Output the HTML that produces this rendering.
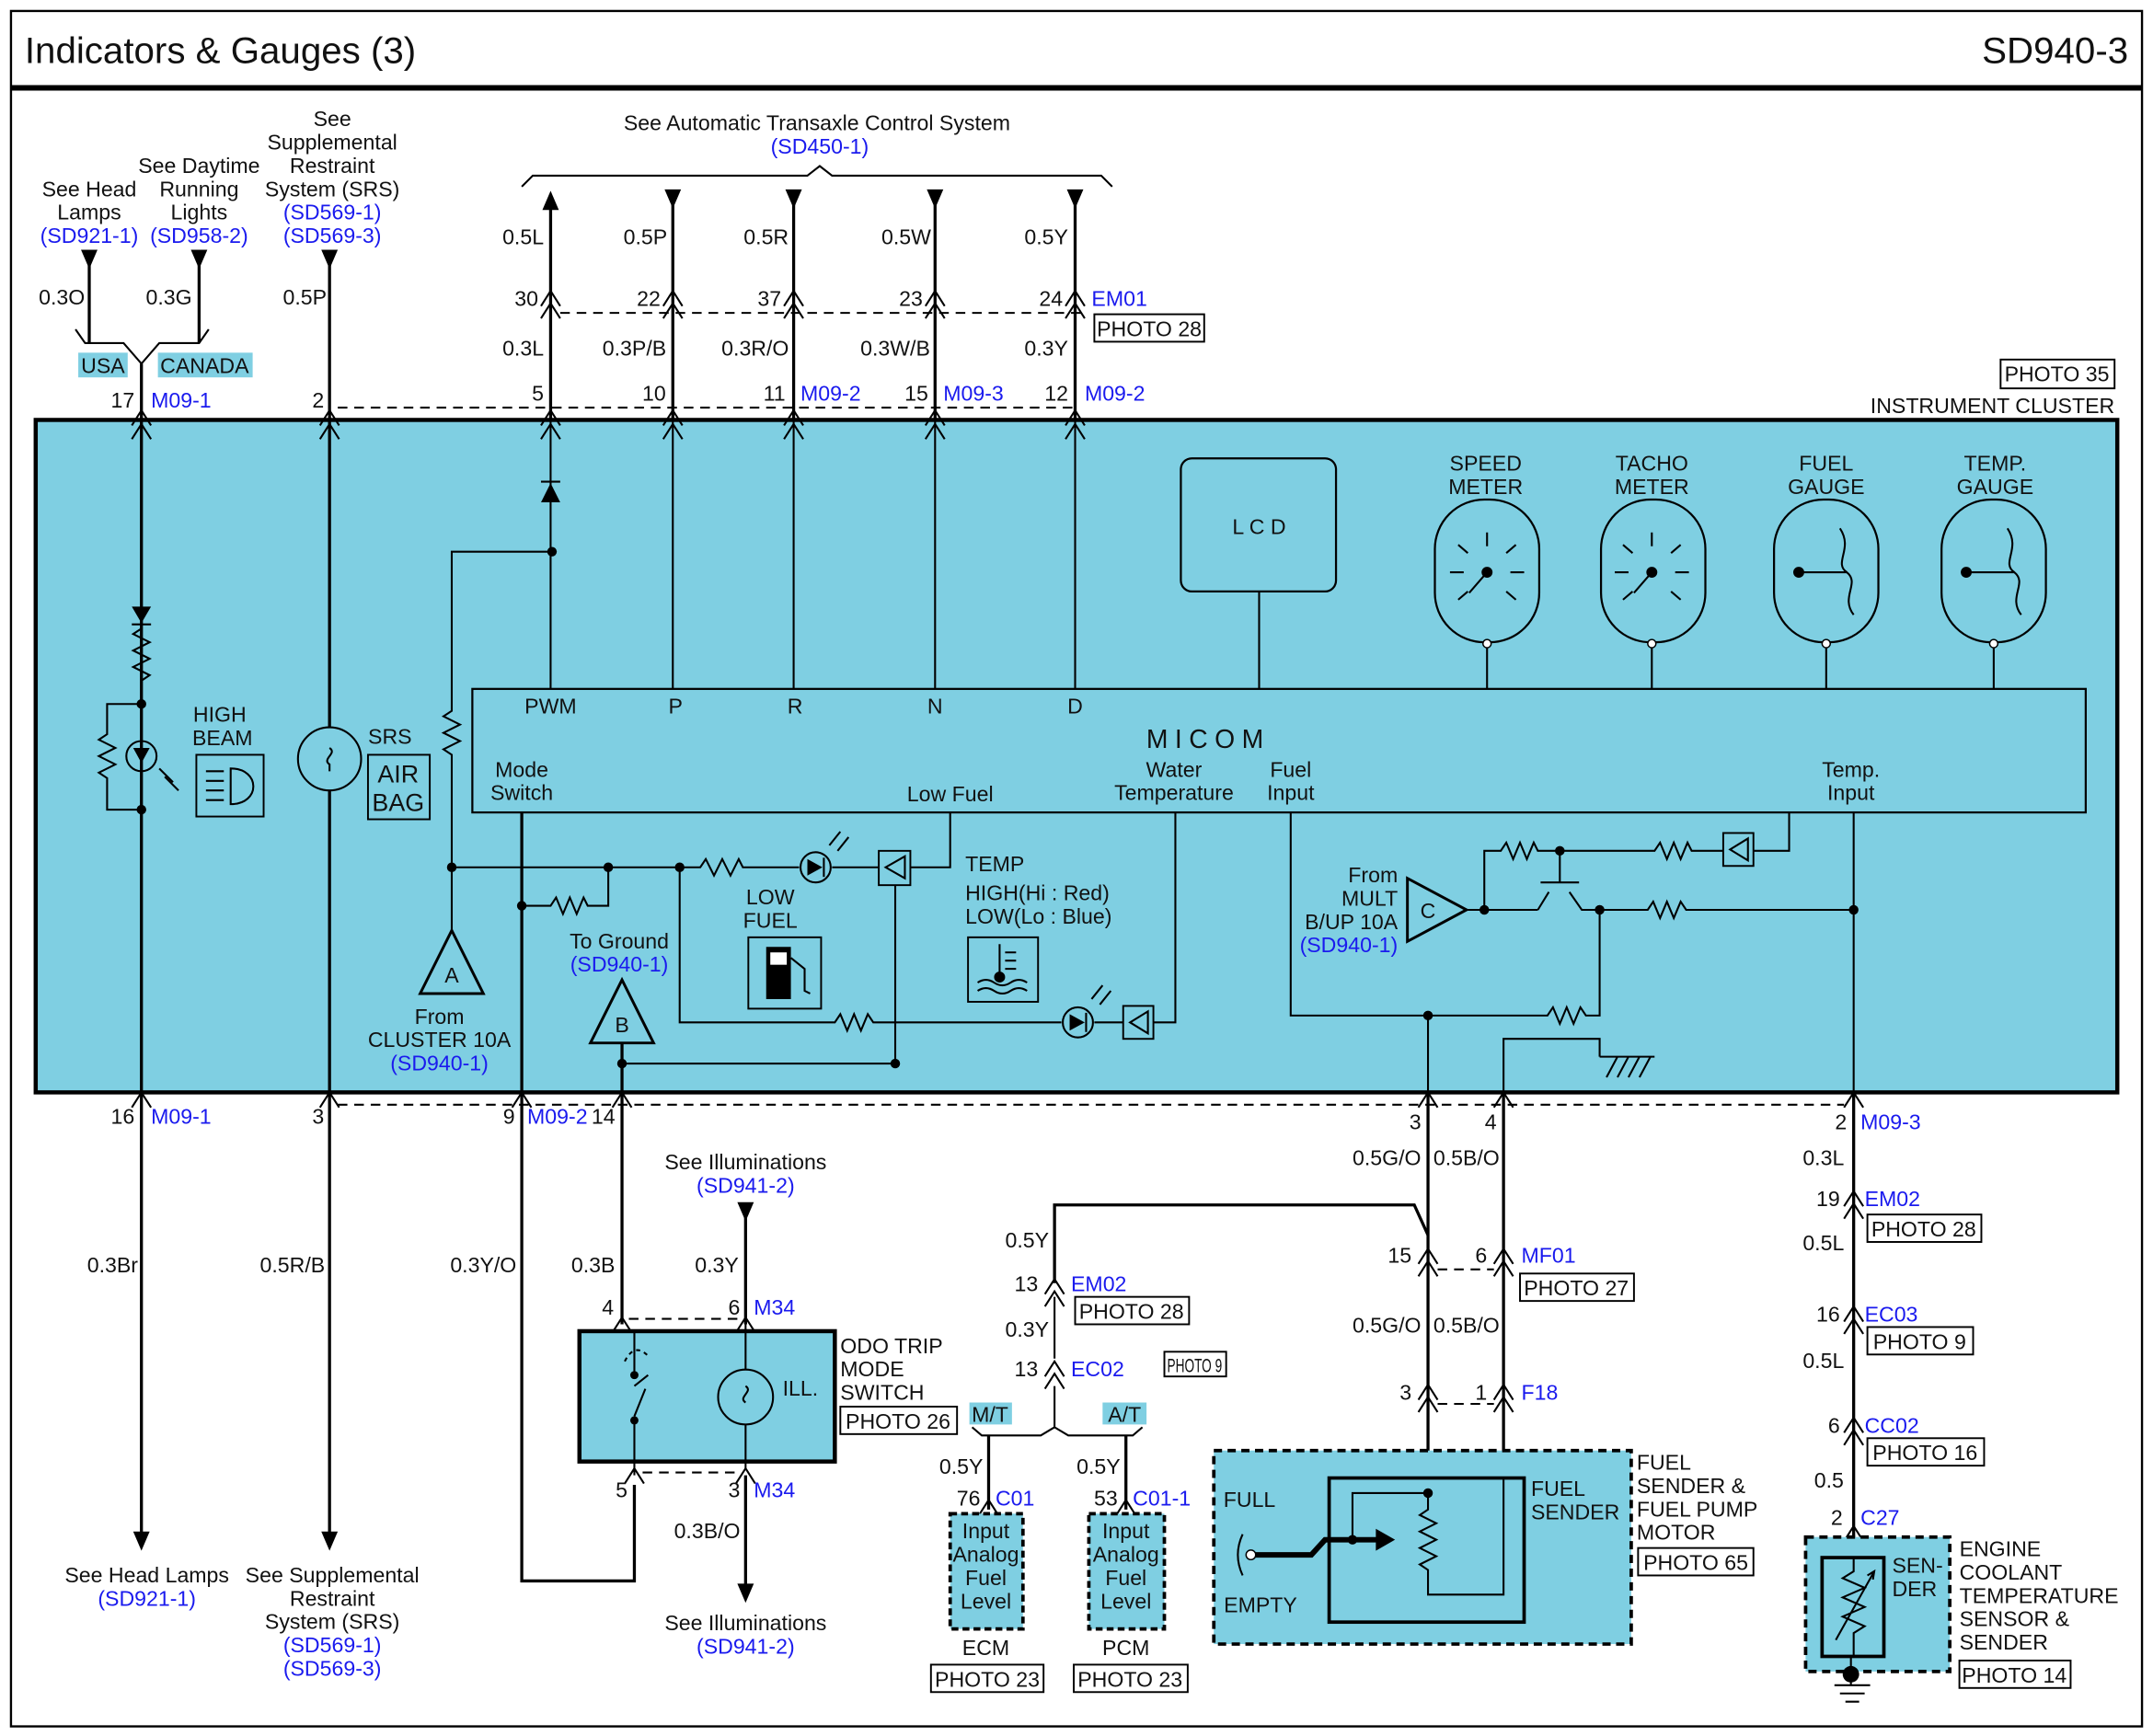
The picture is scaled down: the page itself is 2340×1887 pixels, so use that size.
<!DOCTYPE html>
<html><head><meta charset="utf-8"><style>
html,body{margin:0;padding:0;background:#fff}
svg{display:block}
text{font-family:"Liberation Sans Narrow","Liberation Sans",sans-serif;font-size:15.5px;fill:#111}
.c{text-anchor:middle}.r{text-anchor:end}
.b{fill:#1a1aee}
.w{stroke:#000;stroke-width:2.2;fill:none}
.t{stroke:#000;stroke-width:1.4;fill:none}
.d{stroke:#000;stroke-width:1.4;fill:none;stroke-dasharray:7 5}
.bx{fill:#fff;stroke:#000;stroke-width:1.3}
</style></head><body>
<svg width="2340" height="1887" viewBox="0 0 1568 1265" preserveAspectRatio="none" xmlns="http://www.w3.org/2000/svg">
<defs>
<path id="ch" d="M-7,7 L0,-4 L7,7" fill="none" stroke="#000" stroke-width="1.4"/>
<g id="ch2"><path d="M-7,3 L0,-8 L7,3 M-7,12 L0,1 L7,12" fill="none" stroke="#000" stroke-width="1.4"/></g>
<path id="ad" d="M-6,-8 L6,-8 L0,6 Z" fill="#000"/>
<path id="au" d="M-6,8 L6,8 L0,-6 Z" fill="#000"/>
</defs>
<rect x="0" y="0" width="1568" height="1265" fill="#fff"/>
<rect x="8" y="8" width="1552" height="1250" fill="none" stroke="#000" stroke-width="1.6"/>
<text x="18" y="46" style="font-size:27px">Indicators &amp; Gauges (3)</text>
<text x="1550" y="46" class="r" style="font-size:27px">SD940-3</text>
<line x1="8" y1="64" x2="1560" y2="64" stroke="#000" stroke-width="4"/>

<text x="65" y="143" class="c">See Head</text><text x="65" y="160" class="c">Lamps</text><text x="65" y="177" class="c b">(SD921-1)</text>
<text x="145" y="126" class="c">See Daytime</text><text x="145" y="143" class="c">Running</text><text x="145" y="160" class="c">Lights</text><text x="145" y="177" class="c b">(SD958-2)</text>
<text x="242" y="92" class="c">See</text><text x="242" y="109" class="c">Supplemental</text><text x="242" y="126" class="c">Restraint</text><text x="242" y="143" class="c">System (SRS)</text><text x="242" y="160" class="c b">(SD569-1)</text><text x="242" y="177" class="c b">(SD569-3)</text>
<use href="#ad" x="65" y="190"/><use href="#ad" x="145" y="190"/><use href="#ad" x="240" y="190"/>
<path class="w" d="M65,190 V250 M145,190 V250 M240,190 V306"/>
<path class="t" d="M55,240 L62,250 H90 L103,265 L116,250 H145 L152,240"/>
<path class="w" d="M103,265 V306"/>
<text x="45" y="222" class="c">0.3O</text><text x="123" y="222" class="c">0.3G</text><text x="222" y="222" class="c">0.5P</text>
<rect x="57" y="257" width="36" height="18" fill="#7fcfe2"/><text x="75" y="272" class="c">USA</text>
<rect x="115" y="257" width="69" height="18" fill="#7fcfe2"/><text x="149" y="272" class="c">CANADA</text>
<text x="98" y="297" class="r">17</text><text x="110" y="297" class="b">M09-1</text>
<text x="236" y="297" class="r">2</text>

<text x="595" y="95" class="c">See Automatic Transaxle Control System</text>
<text x="597" y="112" class="c b">(SD450-1)</text>
<path class="t" d="M380,136 L388,128 H588 L597,121 L606,128 H802 L810,136"/>
<use href="#au" x="401" y="145"/>
<use href="#ad" x="490" y="146"/><use href="#ad" x="578" y="146"/><use href="#ad" x="681" y="146"/><use href="#ad" x="783" y="146"/>
<path class="w" d="M401,145 V306 M490,146 V306 M578,146 V306 M681,146 V306 M783,146 V306"/>
<text x="381" y="178" class="c">0.5L</text><text x="470" y="178" class="c">0.5P</text><text x="558" y="178" class="c">0.5R</text><text x="660" y="178" class="c">0.5W</text><text x="762" y="178" class="c">0.5Y</text>
<use href="#ch2" x="401" y="220"/><use href="#ch2" x="490" y="220"/><use href="#ch2" x="578" y="220"/><use href="#ch2" x="681" y="220"/><use href="#ch2" x="783" y="220"/>
<text x="392" y="223" class="r">30</text><text x="481" y="223" class="r">22</text><text x="569" y="223" class="r">37</text><text x="672" y="223" class="r">23</text><text x="774" y="223" class="r">24</text>
<text x="795" y="223" class="b">EM01</text>
<rect x="797" y="229" width="80" height="20" class="bx"/><text x="837" y="245" class="c">PHOTO 28</text>
<line class="d" x1="408" y1="228" x2="790" y2="228"/>
<text x="381" y="259" class="c">0.3L</text><text x="462" y="259" class="c">0.3P/B</text><text x="550" y="259" class="c">0.3R/O</text><text x="652" y="259" class="c">0.3W/B</text><text x="762" y="259" class="c">0.3Y</text>
<text x="396" y="292" class="r">5</text><text x="485" y="292" class="r">10</text><text x="572" y="292" class="r">11</text><text x="583" y="292" class="b">M09-2</text>
<text x="676" y="292" class="r">15</text><text x="687" y="292" class="b">M09-3</text><text x="778" y="292" class="r">12</text><text x="790" y="292" class="b">M09-2</text>
<line class="d" x1="246" y1="297" x2="783" y2="297"/>
<rect x="1457" y="262" width="83" height="21" class="bx"/><text x="1498" y="278" class="c">PHOTO 35</text>
<text x="1540" y="301" class="r">INSTRUMENT CLUSTER</text>

<rect x="26" y="306" width="1516" height="490" fill="#7fcfe2" stroke="#000" stroke-width="3"/>
<g><use href="#ch" x="103" y="303"/><use href="#ch" x="240" y="303"/><use href="#ch" x="401" y="303"/><use href="#ch" x="490" y="303"/><use href="#ch" x="578" y="303"/><use href="#ch" x="681" y="303"/><use href="#ch" x="783" y="303"/>
<use href="#ch" x="103" y="313"/><use href="#ch" x="240" y="313"/><use href="#ch" x="401" y="313"/><use href="#ch" x="490" y="313"/><use href="#ch" x="578" y="313"/><use href="#ch" x="681" y="313"/><use href="#ch" x="783" y="313"/></g>
<rect x="344" y="502" width="1175" height="90" fill="#7fcfe2" stroke="#000" stroke-width="1.5"/>
<rect x="860" y="334" width="113" height="97" rx="8" fill="#7fcfe2" stroke="#000" stroke-width="1.5"/>
<text x="917" y="389" class="c">L C D</text>
<line class="t" x1="917" y1="431" x2="917" y2="502"/>
<g fill="#7fcfe2" stroke="#000" stroke-width="1.5">
<rect x="1045" y="364" width="76" height="104" rx="36"/><rect x="1166" y="364" width="76" height="104" rx="36"/>
<rect x="1292" y="364" width="76" height="104" rx="36"/><rect x="1414" y="364" width="76" height="104" rx="36"/></g>
<g class="t">
<path d="M1083,468 V502 M1203,468 V502 M1330,468 V502 M1452,468 V502"/>
<path d="M1083,388 V398 M1062,397 L1069,403 M1104,397 L1097,403 M1056,417 H1066 M1100,417 H1110 M1062,437 L1069,431 M1104,437 L1097,431 M1083,417 L1070,432"/>
<path d="M1203,388 V398 M1182,397 L1189,403 M1224,397 L1217,403 M1176,417 H1186 M1220,417 H1230 M1182,437 L1189,431 M1224,437 L1217,431 M1203,417 L1190,432"/>
<path d="M1310,417 H1345 M1340,385 C1350,400 1335,410 1345,417 C1355,425 1340,435 1350,448"/>
<path d="M1432,417 H1467 M1462,385 C1472,400 1457,410 1467,417 C1477,425 1462,435 1472,448"/>
</g>
<circle cx="1083" cy="417" r="4"/><circle cx="1203" cy="417" r="4"/><circle cx="1310" cy="417" r="4"/><circle cx="1432" cy="417" r="4"/>
<g fill="#fff" stroke="#000"><circle cx="1083" cy="469" r="3"/><circle cx="1203" cy="469" r="3"/><circle cx="1330" cy="469" r="3"/><circle cx="1452" cy="469" r="3"/></g>
<text x="1082" y="343" class="c">SPEED</text><text x="1082" y="360" class="c">METER</text>
<text x="1203" y="343" class="c">TACHO</text><text x="1203" y="360" class="c">METER</text>
<text x="1330" y="343" class="c">FUEL</text><text x="1330" y="360" class="c">GAUGE</text>
<text x="1453" y="343" class="c">TEMP.</text><text x="1453" y="360" class="c">GAUGE</text>
<text x="401" y="520" class="c">PWM</text><text x="492" y="520" class="c">P</text><text x="579" y="520" class="c">R</text><text x="681" y="520" class="c">N</text><text x="783" y="520" class="c">D</text>
<text x="880" y="545" class="c" style="font-size:19px;letter-spacing:5px">MICOM</text>
<text x="380" y="566" class="c">Mode</text><text x="380" y="583" class="c">Switch</text>
<text x="692" y="584" class="c">Low Fuel</text>
<text x="855" y="566" class="c">Water</text><text x="855" y="583" class="c">Temperature</text>
<text x="940" y="566" class="c">Fuel</text><text x="940" y="583" class="c">Input</text>
<text x="1348" y="566" class="c">Temp.</text><text x="1348" y="583" class="c">Input</text>
<path class="t" d="M490,306 V502 M578,306 V502 M681,306 V502 M783,306 V502 M401,306 V502"/>
<path class="w" d="M103,306 V796 M240,306 V530 M240,576 V796"/>
<path d="M96,442 H110 L103,454 Z" fill="#000"/><line class="t" x1="96" y1="455" x2="110" y2="455"/>
<path class="t" d="M103,458 L97,462 L109,468 L97,474 L109,480 L97,486 L109,492 L103,496 M103,513 H78 V535 L72,539 L84,545 L72,551 L84,557 L72,563 L78,567 V590 H103"/>
<circle cx="103" cy="513" r="3.5"/><circle cx="103" cy="590" r="3.5"/>
<circle cx="103" cy="551" r="11" class="t"/><path d="M97,545 H109 L103,556 Z" fill="#000"/>
<path class="t" d="M116,560 L126,570 M120,566 L130,576"/>
<text x="160" y="526" class="c">HIGH</text><text x="162" y="543" class="c">BEAM</text>
<rect x="143" y="550" width="49" height="45" fill="#7fcfe2" stroke="#000" stroke-width="1.3"/>
<path class="t" d="M168,560 C190,560 190,586 168,586 Z M150,562 H163 M150,569 H163 M150,576 H163 M150,583 H163"/>
<circle cx="240" cy="553" r="23" class="t"/><path class="t" d="M240,545 C246,549 234,553 240,557 V562"/>
<text x="284" y="542" class="c">SRS</text>
<rect x="268" y="550" width="45" height="47" fill="#7fcfe2" stroke="#000" stroke-width="1.3"/>
<text x="290" y="570" class="c" style="font-size:18px">AIR</text><text x="290" y="591" class="c" style="font-size:18px">BAG</text>
<path d="M394,366 H408 L401,352 Z" fill="#000"/><line class="t" x1="394" y1="351" x2="408" y2="351"/>
<circle cx="402" cy="402" r="3.5"/>
<path class="t" d="M402,402 H329 V518 L323,522 L335,528 L323,534 L335,540 L323,546 L329,550 V678"/>
<path d="M329,678 L306,724 H352 Z" fill="#7fcfe2" stroke="#000" stroke-width="2"/><text x="329" y="716" class="c">A</text>
<text x="320" y="746" class="c">From</text><text x="320" y="763" class="c">CLUSTER 10A</text><text x="320" y="780" class="c b">(SD940-1)</text>
<circle cx="329" cy="632" r="3.5"/><circle cx="443" cy="632" r="3.5"/><circle cx="495" cy="632" r="3.5"/>
<path class="t" d="M329,632 H510 L514,626 L520,638 L526,626 L532,638 L538,626 L541,632 H582 M606,632 H640 M663,632 H692 V592"/>
<circle cx="594" cy="632" r="11" class="t"/><path d="M588,626 V638 L599,632 Z" fill="#000"/><line class="t" x1="600" y1="625" x2="600" y2="639"/>
<path class="t" d="M604,616 L612,606 M610,620 L618,610"/>
<rect x="640" y="620" width="23" height="25" fill="#7fcfe2" stroke="#000" stroke-width="1.3"/><path class="t" d="M659,624 L645,632 L659,640 Z"/>
<path class="t" d="M443,632 V660 H428 L425,654 L420,666 L415,654 L410,666 L405,654 L401,660 H380"/>
<circle cx="380" cy="660" r="3.5"/>
<path class="w" d="M380,592 V796"/>
<path class="t" d="M495,632 V745 H608 L612,739 L617,751 L622,739 L627,751 L632,739 L636,745 H773 M797,745 H818 M840,745 H856 V592"/>
<circle cx="785" cy="745" r="11" class="t"/><path d="M779,739 V751 L790,745 Z" fill="#000"/><line class="t" x1="791" y1="738" x2="791" y2="752"/>
<path class="t" d="M795,728 L803,718 M801,732 L809,722"/>
<rect x="818" y="733" width="22" height="24" fill="#7fcfe2" stroke="#000" stroke-width="1.3"/><path class="t" d="M836,737 L823,745 L836,753 Z"/>
<path class="t" d="M652,645 V775 H453"/><circle cx="652" cy="775" r="3.5"/><circle cx="453" cy="775" r="3.5"/>
<path d="M453,714 L430,760 H476 Z" fill="#7fcfe2" stroke="#000" stroke-width="2"/><text x="453" y="752" class="c">B</text>
<path class="w" d="M453,760 V796"/>
<text x="451" y="691" class="c">To Ground</text><text x="451" y="708" class="c b">(SD940-1)</text>
<text x="561" y="659" class="c">LOW</text><text x="561" y="676" class="c">FUEL</text>
<rect x="545" y="683" width="53" height="52" fill="#7fcfe2" stroke="#000" stroke-width="1.3"/>
<path d="M558,690 H576 V728 H558 Z" fill="#000"/><rect x="561" y="694" width="12" height="9" fill="#fff"/><path class="t" d="M576,698 L586,706 V722 L590,724"/>
<text x="703" y="635">TEMP</text><text x="703" y="656">HIGH(Hi : Red)</text><text x="703" y="673">LOW(Lo : Blue)</text>
<rect x="705" y="683" width="51" height="47" fill="#7fcfe2" stroke="#000" stroke-width="1.3"/>
<path class="t" d="M728,688 V712 M732,694 H740 M732,700 H740 M732,706 H740 M712,716 Q718,712 724,716 T736,716 T748,716 M712,722 Q718,718 724,722 T736,722 T748,722"/><circle cx="728" cy="712" r="4"/>
<path class="t" d="M940,592 V740 H1127 L1131,734 L1136,746 L1141,734 L1146,746 L1151,734 L1155,740 H1165 V663"/>
<circle cx="1040" cy="740" r="3.5"/>
<path d="M1068,663 L1025,640 V686 Z" fill="#7fcfe2" stroke="#000" stroke-width="2"/><text x="1040" y="669" class="c">C</text>
<text x="1018" y="643" class="r">From</text><text x="1018" y="660" class="r">MULT</text><text x="1018" y="677" class="r">B/UP 10A</text><text x="1018" y="694" class="r b">(SD940-1)</text>
<circle cx="1081" cy="663" r="3.5"/>
<path class="t" d="M1068,663 H1120 M1081,663 V620 H1093 L1097,614 L1102,626 L1107,614 L1112,626 L1117,614 L1120,620 H1205 L1209,614 L1214,626 L1219,614 L1224,626 L1229,614 L1232,620 H1255 M1277,620 H1303 V592"/>
<circle cx="1136" cy="620" r="3.5"/>
<path class="t" d="M1120,663 L1128,650 M1122,643 H1150 M1136,620 V643 M1143,650 L1152,663 H1165"/>
<circle cx="1165" cy="663" r="3.5"/>
<rect x="1255" y="607" width="22" height="24" fill="#7fcfe2" stroke="#000" stroke-width="1.3"/><path class="t" d="M1273,611 L1260,619 L1273,627 Z"/>
<path class="t" d="M1165,663 H1200 L1204,657 L1209,669 L1214,657 L1219,669 L1224,657 L1228,663 H1350"/>
<circle cx="1350" cy="663" r="3.5"/>
<path class="t" d="M1350,592 V796 M1040,740 V796 M1095,796 V757 H1165 V770 M1165,770 H1205 M1170,785 L1178,770 M1178,785 L1186,770 M1186,785 L1194,770 M1194,785 L1202,770"/>

<g><use href="#ch" x="103" y="800"/><use href="#ch" x="240" y="800"/><use href="#ch" x="380" y="800"/><use href="#ch" x="453" y="800"/><use href="#ch" x="1040" y="800"/><use href="#ch" x="1095" y="800"/><use href="#ch" x="1350" y="800"/></g>
<line class="d" x1="246" y1="805" x2="1343" y2="805"/>
<text x="98" y="819" class="r">16</text><text x="110" y="819" class="b">M09-1</text>
<text x="236" y="819" class="r">3</text><text x="375" y="819" class="r">9</text><text x="384" y="819" class="b">M09-2</text><text x="448" y="819" class="r">14</text>
<text x="1035" y="823" class="r">3</text><text x="1090" y="823" class="r">4</text><text x="1345" y="823" class="r">2</text><text x="1355" y="823" class="b">M09-3</text>
<path class="w" d="M103,796 V1120 M240,796 V1120 M380,796 V1152 H462 V1082 M453,796 V965"/>
<use href="#ad" x="103" y="1124"/><use href="#ad" x="240" y="1124"/>
<text x="82" y="927" class="c">0.3Br</text><text x="213" y="927" class="c">0.5R/B</text><text x="352" y="927" class="c">0.3Y/O</text><text x="432" y="927" class="c">0.3B</text>
<text x="107" y="1153" class="c">See Head Lamps</text><text x="107" y="1170" class="c b">(SD921-1)</text>
<text x="242" y="1153" class="c">See Supplemental</text><text x="242" y="1170" class="c">Restraint</text><text x="242" y="1187" class="c">System (SRS)</text><text x="242" y="1204" class="c b">(SD569-1)</text><text x="242" y="1221" class="c b">(SD569-3)</text>
<text x="543" y="852" class="c">See Illuminations</text><text x="543" y="869" class="c b">(SD941-2)</text>
<use href="#ad" x="543" y="884"/>
<path class="w" d="M543,884 V965 M543,1075 V1155"/>
<use href="#ad" x="543" y="1162"/>
<text x="522" y="927" class="c">0.3Y</text>
<text x="447" y="958" class="r">4</text><text x="539" y="958" class="r">6</text><text x="549" y="958" class="b">M34</text>
<use href="#ch" x="453" y="964"/><use href="#ch" x="543" y="964"/>
<line class="d" x1="458" y1="961" x2="537" y2="961"/>
<rect x="422" y="970" width="186" height="95" fill="#7fcfe2" stroke="#000" stroke-width="3"/>
<circle cx="543" cy="1018" r="20" class="t"/><path class="t" d="M543,965 V998 M543,1038 V1070 M543,1010 C549,1014 537,1018 543,1022"/>
<text x="570" y="1017">ILL.</text>
<path class="t" d="M462,970 V1000 M462,1035 V1075 M462,1010 L472,1002 M462,1032 L470,1012"/>
<path class="t" d="M455,992 Q462,978 472,988" stroke-dasharray="3 3"/>
<circle cx="462" cy="1002" r="3"/><circle cx="462" cy="1035" r="3"/>
<text x="612" y="986">ODO TRIP</text><text x="612" y="1003">MODE</text><text x="612" y="1020">SWITCH</text>
<rect x="612" y="1025" width="85" height="20" class="bx"/><text x="654" y="1041" class="c">PHOTO 26</text>
<use href="#ch" x="462" y="1074"/><use href="#ch" x="543" y="1074"/>
<line class="d" x1="468" y1="1073" x2="537" y2="1073"/>
<text x="457" y="1091" class="r">5</text><text x="539" y="1091" class="r">3</text><text x="549" y="1091" class="b">M34</text>
<text x="515" y="1121" class="c">0.3B/O</text>
<text x="543" y="1188" class="c">See Illuminations</text><text x="543" y="1205" class="c b">(SD941-2)</text>
<path class="w" d="M768,935 V878 H1030 L1040,900"/>
<text x="748" y="909" class="c">0.5Y</text>
<use href="#ch2" x="768" y="940"/><text x="756" y="941" class="r">13</text><text x="780" y="941" class="b">EM02</text>
<rect x="783" y="945" width="83" height="20" class="bx"/><text x="824" y="961" class="c">PHOTO 28</text>
<text x="748" y="974" class="c">0.3Y</text>
<use href="#ch2" x="768" y="1000"/><text x="756" y="1003" class="r">13</text><text x="780" y="1003" class="b">EC02</text>
<rect x="848" y="985" width="45" height="18" class="bx"/><text x="870" y="1000" class="c" style="font-size:14px" textLength="40" lengthAdjust="spacingAndGlyphs">PHOTO 9</text>
<path class="t" d="M768,945 V990 M768,1010 V1040 L758,1046 H715 L708,1040 M768,1040 L778,1046 H825 L832,1040"/>
<path class="w" d="M720,1046 V1100 M820,1046 V1100"/>
<rect x="706" y="1022" width="31" height="16" fill="#7fcfe2"/><text x="721" y="1036" class="c">M/T</text>
<rect x="803" y="1022" width="32" height="16" fill="#7fcfe2"/><text x="819" y="1036" class="c">A/T</text>
<text x="700" y="1074" class="c">0.5Y</text><text x="800" y="1074" class="c">0.5Y</text>
<use href="#ch" x="720" y="1097"/><use href="#ch" x="820" y="1097"/>
<text x="714" y="1097" class="r">76</text><text x="725" y="1097" class="b">C01</text>
<text x="814" y="1097" class="r">53</text><text x="825" y="1097" class="b">C01-1</text>
<rect x="692" y="1103" width="53" height="84" fill="#7fcfe2" stroke="#000" stroke-width="2.5" stroke-dasharray="5 3"/>
<rect x="793" y="1103" width="55" height="84" fill="#7fcfe2" stroke="#000" stroke-width="2.5" stroke-dasharray="5 3"/>
<text x="718" y="1121" class="c">Input</text><text x="718" y="1138" class="c">Analog</text><text x="718" y="1155" class="c">Fuel</text><text x="718" y="1172" class="c">Level</text>
<text x="820" y="1121" class="c">Input</text><text x="820" y="1138" class="c">Analog</text><text x="820" y="1155" class="c">Fuel</text><text x="820" y="1172" class="c">Level</text>
<text x="718" y="1206" class="c">ECM</text><text x="820" y="1206" class="c">PCM</text>
<rect x="678" y="1213" width="82" height="20" class="bx"/><text x="719" y="1229" class="c">PHOTO 23</text>
<rect x="782" y="1213" width="83" height="20" class="bx"/><text x="823" y="1229" class="c">PHOTO 23</text>
<path class="w" d="M1040,796 V1088 M1095,796 V1078"/>
<text x="1010" y="849" class="c">0.5G/O</text><text x="1068" y="849" class="c">0.5B/O</text>
<use href="#ch2" x="1040" y="918"/><use href="#ch2" x="1095" y="918"/>
<text x="1028" y="920" class="r">15</text><text x="1083" y="920" class="r">6</text><text x="1108" y="920" class="b">MF01</text>
<line class="d" x1="1047" y1="925" x2="1088" y2="925"/>
<rect x="1107" y="928" width="83" height="20" class="bx"/><text x="1148" y="944" class="c">PHOTO 27</text>
<text x="1010" y="971" class="c">0.5G/O</text><text x="1068" y="971" class="c">0.5B/O</text>
<use href="#ch2" x="1040" y="1017"/><use href="#ch2" x="1095" y="1017"/>
<text x="1028" y="1020" class="r">3</text><text x="1083" y="1020" class="r">1</text><text x="1108" y="1020" class="b">F18</text>
<line class="d" x1="1047" y1="1023" x2="1088" y2="1023"/>
<rect x="884" y="1057" width="304" height="141" fill="#7fcfe2" stroke="#000" stroke-width="2.5" stroke-dasharray="6 4"/>
<rect x="968" y="1077" width="142" height="105" fill="#7fcfe2" stroke="#000" stroke-width="2.5"/>
<path class="t" d="M1040,1088 H985 V1122 M1040,1088 V1100 L1034,1104 L1046,1110 L1034,1116 L1046,1122 L1034,1128 L1046,1134 L1034,1140 L1040,1144 V1162 H1095 V1078"/>
<circle cx="1040" cy="1088" r="3.5"/>
<path d="M912,1133 H955 L965,1122 H1005" stroke="#000" stroke-width="4" fill="none"/><path d="M1002,1114 L1016,1122 L1002,1130 Z" fill="#000"/><circle cx="985" cy="1122" r="3.5"/>
<circle cx="911" cy="1133" r="3.5" fill="#fff" stroke="#000"/>
<path class="t" d="M905,1118 Q898,1133 905,1148"/>
<text x="910" y="1098" class="c">FULL</text><text x="918" y="1175" class="c">EMPTY</text>
<text x="1115" y="1090">FUEL</text><text x="1115" y="1107">SENDER</text>
<text x="1192" y="1071">FUEL</text><text x="1192" y="1088">SENDER &amp;</text><text x="1192" y="1105">FUEL PUMP</text><text x="1192" y="1122">MOTOR</text>
<rect x="1193" y="1128" width="84" height="20" class="bx"/><text x="1235" y="1144" class="c">PHOTO 65</text>
<path class="w" d="M1350,796 V1135"/>
<text x="1328" y="849" class="c">0.3L</text>
<use href="#ch2" x="1350" y="876"/><text x="1340" y="879" class="r">19</text><text x="1358" y="879" class="b">EM02</text>
<rect x="1360" y="885" width="83" height="20" class="bx"/><text x="1401" y="901" class="c">PHOTO 28</text>
<text x="1328" y="911" class="c">0.5L</text>
<use href="#ch2" x="1350" y="960"/><text x="1340" y="963" class="r">16</text><text x="1358" y="963" class="b">EC03</text>
<rect x="1360" y="967" width="77" height="20" class="bx"/><text x="1398" y="983" class="c">PHOTO 9</text>
<text x="1328" y="997" class="c">0.5L</text>
<use href="#ch2" x="1350" y="1041"/><text x="1340" y="1044" class="r">6</text><text x="1358" y="1044" class="b">CC02</text>
<rect x="1360" y="1048" width="85" height="20" class="bx"/><text x="1402" y="1064" class="c">PHOTO 16</text>
<text x="1332" y="1084" class="c">0.5</text>
<use href="#ch" x="1350" y="1116"/><text x="1342" y="1111" class="r">2</text><text x="1355" y="1111" class="b">C27</text>
<rect x="1315" y="1120" width="105" height="98" fill="#7fcfe2" stroke="#000" stroke-width="2.5" stroke-dasharray="6 4"/>
<rect x="1327" y="1135" width="45" height="72" fill="#7fcfe2" stroke="#000" stroke-width="2.5"/>
<path class="t" d="M1350,1135 V1145 L1342,1150 L1358,1157 L1342,1164 L1358,1171 L1342,1178 L1358,1185 L1350,1190 V1207 M1337,1195 L1365,1145 M1360,1148 L1365,1145 L1364,1151 M1348,1207 V1228 M1336,1228 H1362 M1340,1234 H1358 M1344,1240 H1354"/>
<circle cx="1348" cy="1220" r="6"/>
<text x="1378" y="1146">SEN-</text><text x="1378" y="1163">DER</text>
<text x="1427" y="1134">ENGINE</text><text x="1427" y="1151">COOLANT</text><text x="1427" y="1168">TEMPERATURE</text><text x="1427" y="1185">SENSOR &amp;</text><text x="1427" y="1202">SENDER</text>
<rect x="1427" y="1210" width="81" height="20" class="bx"/><text x="1467" y="1226" class="c">PHOTO 14</text>
</svg>
</body></html>
